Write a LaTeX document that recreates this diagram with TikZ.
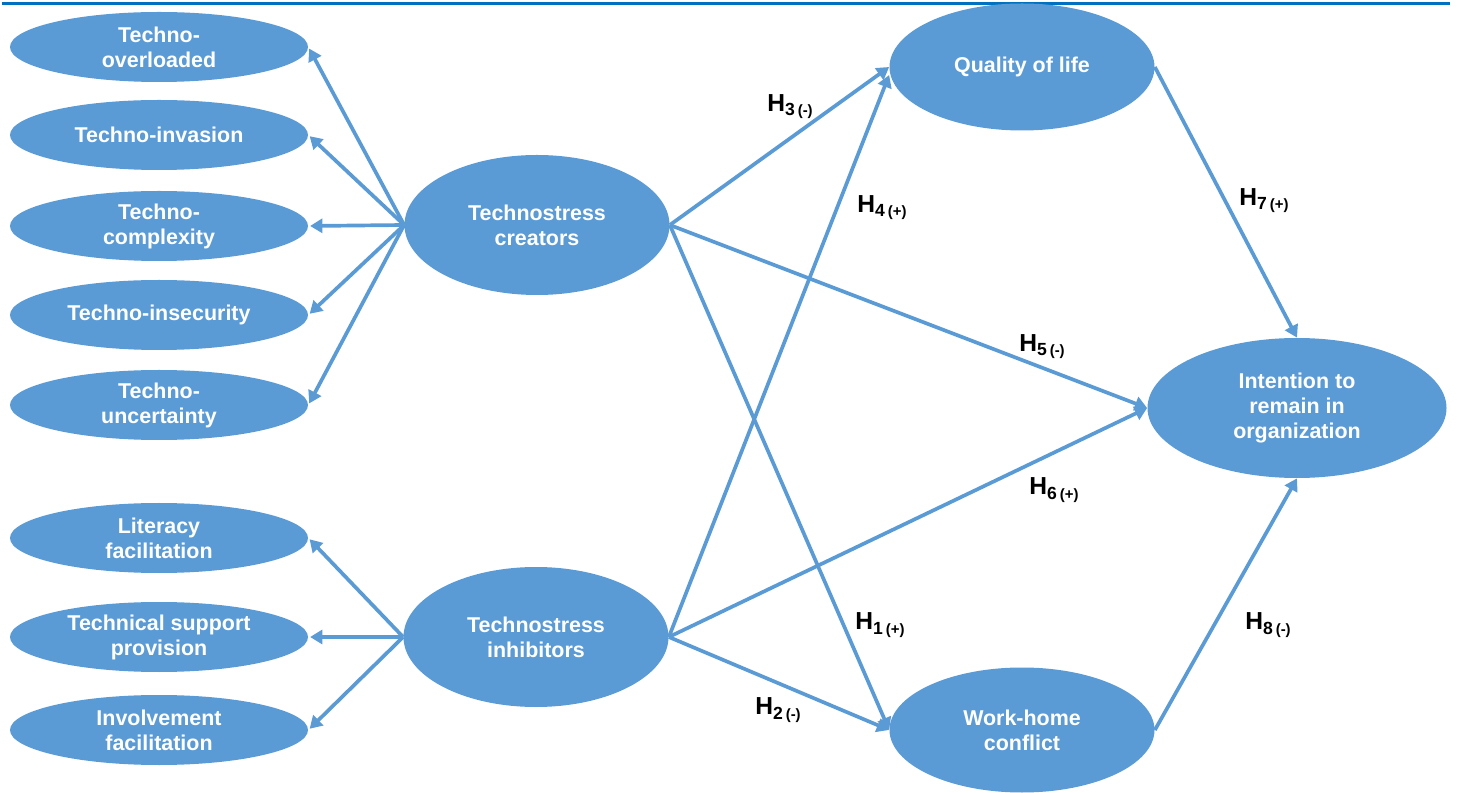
\documentclass[tikz,border=0pt]{standalone}
\usepackage{fontspec}
\setmainfont{Liberation Sans}
\usetikzlibrary{shapes.geometric,arrows.meta}
\definecolor{ebl}{HTML}{5B9BD5}
\definecolor{topbl}{HTML}{0070C0}
\tikzset{
  ell/.style={ellipse, fill=ebl, draw=none, inner sep=0pt, text=white, align=center,
    font=\fontsize{12.2}{14.2}\selectfont\bfseries},
  small/.style={ell, minimum width=298*0.02cm, minimum height=70*0.02cm},
  big/.style={ell, minimum width=265*0.02cm, minimum height=140*0.02cm},
  con/.style={draw=ebl, line width=2.1pt, -{Triangle[length=7pt,width=8pt]}},
  hl/.style={text=black, font=\bfseries, inner sep=0pt}
}
\newcommand{\hyp}[2]{{\fontsize{14}{14}\selectfont H}\raisebox{-0.45ex}{\fontsize{10}{10}\selectfont #1\,{\fontsize{8.5}{8.5}\selectfont(#2)}}}
\begin{document}
\begin{tikzpicture}[x=0.02cm,y=-0.02cm]
\useasboundingbox (0,0) rectangle (1457,793);
\draw[topbl, line width=1.6pt] (2,3.5) -- (1450,3.5);
% left column
\node[small] (ov) at (159,47) {Techno-\\overloaded};
\node[small] (inv) at (159,135) {Techno-invasion};
\node[small] (cpx) at (159,226) {Techno-\\complexity};
\node[small] (ins) at (159,315) {Techno-insecurity};
\node[small] (unc) at (159,405) {Techno-\\uncertainty};
\node[small] (lit) at (159,538) {Literacy\\facilitation};
\node[small] (tsp) at (159,637) {Technical support\\provision};
\node[small] (inf) at (159,730) {Involvement\\facilitation};
% middle
\node[big] (cre) at (537,225) {Technostress\\creators};
\node[big] (inh) at (536,637) {Technostress\\inhibitors};
% right
\node[ell, minimum width=265*0.02cm, minimum height=127*0.02cm] (qol) at (1022,67) {Quality of life};
\node[ell, minimum width=265*0.02cm, minimum height=125*0.02cm] (whc) at (1022,730) {Work-home\\conflict};
\node[ell, minimum width=299*0.02cm, minimum height=140*0.02cm] (itr) at (1297,408) {Intention to\\remain in\\organization};
% left arrows
\foreach \t in {ov,inv,cpx,ins,unc} \draw[con, shorten >=1pt] (cre.west) -- (\t.east);
\foreach \t in {lit,tsp,inf} \draw[con, shorten >=1pt] (inh.west) -- (\t.east);
% right arrows
\draw[con] (cre.east) -- (qol.west);
\draw[con] (cre.east) -- (whc.west);
\draw[con] (cre.east) -- (itr.west);
\draw[con] (inh.east) -- ([yshift=-8*0.02cm]qol.west);
\draw[con] (inh.east) -- (itr.west);
\draw[con] (inh.east) -- (whc.west);
\draw[con] (qol.east) -- (itr.north);
\draw[con] (whc.east) -- (itr.south);
% labels
\node[hl] (h3) at (790,107) {\hyp{3}{-}};
\node[hl] (h4) at (882,208) {\hyp{4}{+}};
\node[hl] (h5) at (1042,347) {\hyp{5}{-}};
\node[hl] (h6) at (1054,490) {\hyp{6}{+}};
\node[hl] (h1) at (880,625) {\hyp{1}{+}};
\node[hl] (h2) at (778,710) {\hyp{2}{-}};
\node[hl] (h7) at (1264,201) {\hyp{7}{+}};
\node[hl] (h8) at (1268,625) {\hyp{8}{-}};
\end{tikzpicture}
\end{document}
